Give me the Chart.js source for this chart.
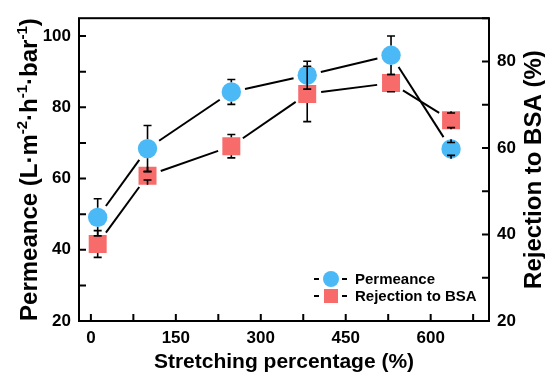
<!DOCTYPE html>
<html>
<head>
<meta charset="utf-8">
<script src="https://cdn.jsdelivr.net/npm/chart.js@4.4.0/dist/chart.umd.min.js"></script>
<style>
  html, body { margin: 0; padding: 0; background: #fff; }
  #myChart { display: block; }
</style>
</head>
<body>
<canvas id="myChart" width="545" height="373"></canvas>
<script>
// stretching percentage (%) of each sample
const stretching = [12, 100, 248, 382, 530, 636];
// permeance, L·m-2·h-1·bar-1 (left axis)
const permeance = [49.1, 68.4, 84.3, 89.0, 94.6, 68.3];
const permeanceErr = [5.2, 6.5, 3.5, 3.9, 5.4, 1.8];
// rejection to BSA, % (right axis)
const rejection = [37.8, 53.6, 60.4, 72.5, 75.0, 66.4];
const rejectionErr = [3.1, 1.0, 2.7, 6.4, 2.0, 1.7];

// ticks - minor ones have an empty label
const xTicks = [0, 75, 150, 225, 300, 375, 450, 525, 600, 675];
const xLabels = ['0', '', '150', '', '300', '', '450', '', '600', ''];
const yTicks = [20, 30, 40, 50, 60, 70, 80, 90, 100];
const yLabels = ['20', '', '40', '', '60', '', '80', '', '100'];
const y1Ticks = [20, 30, 40, 50, 60, 70, 80, 90];
const y1Labels = ['20', '', '40', '', '60', '', '80', ''];

const FONT = '"Liberation Sans", Arial, sans-serif';
const BLUE = '#4CB9F7';
const RED = '#F76B6B';

function points(values) {
    return stretching.map((x, i) => { return { x: x, y: values[i] } })
}

// Origin style decorations: gapped lines, error bars, box, inward ticks, titles, legend
const originLook = {
    id: 'originLook',
    beforeDatasetsDraw(chart) {
        const ctx = chart.ctx;
        const gap = 14;
        ctx.save();
        ctx.strokeStyle = '#000';
        ctx.lineWidth = 2;
        chart.data.datasets.forEach((ds, di) => {
            const pts = chart.getDatasetMeta(di).data;
            for (let i = 0; i < pts.length - 1; i++) {
                const a = pts[i], b = pts[i + 1];
                const dx = b.x - a.x, dy = b.y - a.y;
                const len = Math.hypot(dx, dy);
                if (len < 2 * gap) continue;
                const ux = dx / len, uy = dy / len;
                ctx.beginPath();
                ctx.moveTo(a.x + ux * gap, a.y + uy * gap);
                ctx.lineTo(b.x - ux * gap, b.y - uy * gap);
                ctx.stroke();
            }
        });
        ctx.restore();
    },
    afterDatasetsDraw(chart) {
        const ctx = chart.ctx;
        const area = chart.chartArea;
        const xs = chart.scales.x, ys = chart.scales.y, y1s = chart.scales.y1;

        // error bars
        ctx.save();
        ctx.strokeStyle = '#000';
        ctx.lineWidth = 1.6;
        chart.data.datasets.forEach((ds, di) => {
            const scale = chart.scales[ds.yAxisID];
            const pts = chart.getDatasetMeta(di).data;
            pts.forEach((p, i) => {
                const v = ds.data[i].y, e = ds.errors[i];
                const top = scale.getPixelForValue(v + e);
                const bot = scale.getPixelForValue(v - e);
                const edge = ds.markerEdge;
                ctx.beginPath();
                ctx.moveTo(p.x, p.y - edge); ctx.lineTo(p.x, top);
                ctx.moveTo(p.x, p.y + edge); ctx.lineTo(p.x, bot);
                ctx.moveTo(p.x - 4, top); ctx.lineTo(p.x + 4, top);
                ctx.moveTo(p.x - 4, bot); ctx.lineTo(p.x + 4, bot);
                ctx.stroke();
            });
        });

        // frame
        ctx.lineWidth = 2;
        ctx.strokeRect(area.left, area.top, area.right - area.left, area.bottom - area.top);

        // inward ticks
        const tl = 7;
        ctx.beginPath();
        xTicks.forEach((v) => {
            const px = xs.getPixelForValue(v);
            ctx.moveTo(px, area.bottom); ctx.lineTo(px, area.bottom - tl);
        });
        yTicks.forEach((v) => {
            const py = ys.getPixelForValue(v);
            ctx.moveTo(area.left, py); ctx.lineTo(area.left + tl, py);
        });
        y1Ticks.forEach((v) => {
            const py = y1s.getPixelForValue(v);
            ctx.moveTo(area.right, py); ctx.lineTo(area.right - tl, py);
        });
        ctx.stroke();

        // axis titles
        ctx.fillStyle = '#000';
        const midY = (area.top + area.bottom) / 2;
        ctx.textBaseline = 'alphabetic';

        ctx.font = 'bold 21px ' + FONT;
        ctx.textAlign = 'center';
        ctx.fillText('Stretching percentage (%)', (area.left + area.right) / 2, 368);

        // left title with superscripts
        const parts = [['Permeance (L·m', 0], ['-2', 1], ['·h', 0], ['-1', 1], ['·bar', 0], ['-1', 1], [')', 0]];
        const big = 'bold 24px ' + FONT, small = 'bold 15px ' + FONT;
        let total = 0;
        parts.forEach((p) => { ctx.font = p[1] ? small : big; total += ctx.measureText(p[0]).width; });
        ctx.save();
        ctx.translate(37, midY);
        ctx.rotate(-Math.PI / 2);
        ctx.textAlign = 'left';
        let cx = -total / 2;
        parts.forEach((p) => {
            ctx.font = p[1] ? small : big;
            ctx.fillText(p[0], cx, p[1] ? -10 : 0);
            cx += ctx.measureText(p[0]).width;
        });
        ctx.restore();

        // right title
        ctx.save();
        ctx.translate(541, midY);
        ctx.rotate(-Math.PI / 2);
        ctx.font = big;
        ctx.textAlign = 'center';
        ctx.fillText('Rejection to BSA (%)', 0, 0);
        ctx.restore();

        // legend
        const lx = area.right - 158;
        const rows = [[area.bottom - 42, 'circle', BLUE, 'Permeance'], [area.bottom - 25, 'rect', RED, 'Rejection to BSA']];
        ctx.font = 'bold 15px ' + FONT;
        ctx.textAlign = 'left';
        ctx.textBaseline = 'middle';
        rows.forEach((r) => {
            const y = r[0];
            ctx.lineWidth = 2;
            ctx.beginPath();
            ctx.moveTo(lx - 17, y); ctx.lineTo(lx - 12, y);
            ctx.moveTo(lx + 11, y); ctx.lineTo(lx + 16, y);
            ctx.stroke();
            ctx.fillStyle = r[2];
            if (r[1] === 'circle') {
                ctx.beginPath(); ctx.arc(lx, y, 8, 0, Math.PI * 2); ctx.fill();
            } else {
                ctx.fillRect(lx - 7, y - 7, 14, 14);
            }
            ctx.fillStyle = '#000';
            ctx.fillText(r[3], lx + 24, y + 1);
        });
        ctx.restore();
    }
};

const data = {
    datasets: [{
        label: 'Rejection to BSA',
        data: points(rejection),
        errors: rejectionErr,
        markerEdge: 9,
        yAxisID: 'y1',
        order: 0,
        showLine: false,
        pointStyle: 'rect',
        pointRadius: 12.7,
        pointHoverRadius: 12.7,
        pointBorderWidth: 0,
        backgroundColor: RED,
        borderColor: RED
    },
    {
        label: 'Permeance',
        data: points(permeance),
        errors: permeanceErr,
        markerEdge: 9.7,
        yAxisID: 'y',
        order: 1,
        showLine: false,
        pointStyle: 'circle',
        pointRadius: 9.7,
        pointHoverRadius: 9.7,
        pointBorderWidth: 0,
        backgroundColor: BLUE,
        borderColor: BLUE
    }]
};

const tickFont = { family: FONT, size: 17, weight: 'bold' };

const config = {
    type: 'scatter',
    data: data,
    options: {
        responsive: false,
        animation: false,
        devicePixelRatio: 1,
        layout: { padding: { top: 16, left: 0, right: 0, bottom: 0 } },
        plugins: { legend: { display: false }, tooltip: { enabled: false } },
        scales: {
            x: {
                type: 'linear',
                position: 'bottom',
                min: -21,
                max: 703,
                afterBuildTicks: (s) => { s.ticks = xTicks.map((v) => { return { value: v } }) },
                afterFit: (s) => { s.height = 52 },
                grid: { display: false, drawTicks: false },
                border: { display: false },
                ticks: {
                    autoSkip: false, maxRotation: 0, padding: 7, color: '#000', font: tickFont,
                    callback: (v) => xLabels[xTicks.indexOf(v)]
                }
            },
            y: {
                type: 'linear',
                position: 'left',
                min: 20,
                max: 105,
                afterBuildTicks: (s) => { s.ticks = yTicks.map((v) => { return { value: v } }) },
                afterFit: (s) => { s.width = 79 },
                grid: { display: false, drawTicks: false },
                border: { display: false },
                ticks: {
                    autoSkip: false, padding: 8, color: '#000', font: tickFont,
                    callback: (v) => yLabels[yTicks.indexOf(v)]
                }
            },
            y1: {
                type: 'linear',
                position: 'right',
                min: 20,
                max: 90,
                afterBuildTicks: (s) => { s.ticks = y1Ticks.map((v) => { return { value: v } }) },
                afterFit: (s) => { s.width = 56 },
                grid: { display: false, drawTicks: false },
                border: { display: false },
                ticks: {
                    autoSkip: false, padding: 8, color: '#000', font: tickFont,
                    callback: (v) => y1Labels[y1Ticks.indexOf(v)]
                }
            }
        }
    },
    plugins: [originLook]
};

myChart = new Chart(document.getElementById('myChart'), config);
</script>
</body>
</html>
